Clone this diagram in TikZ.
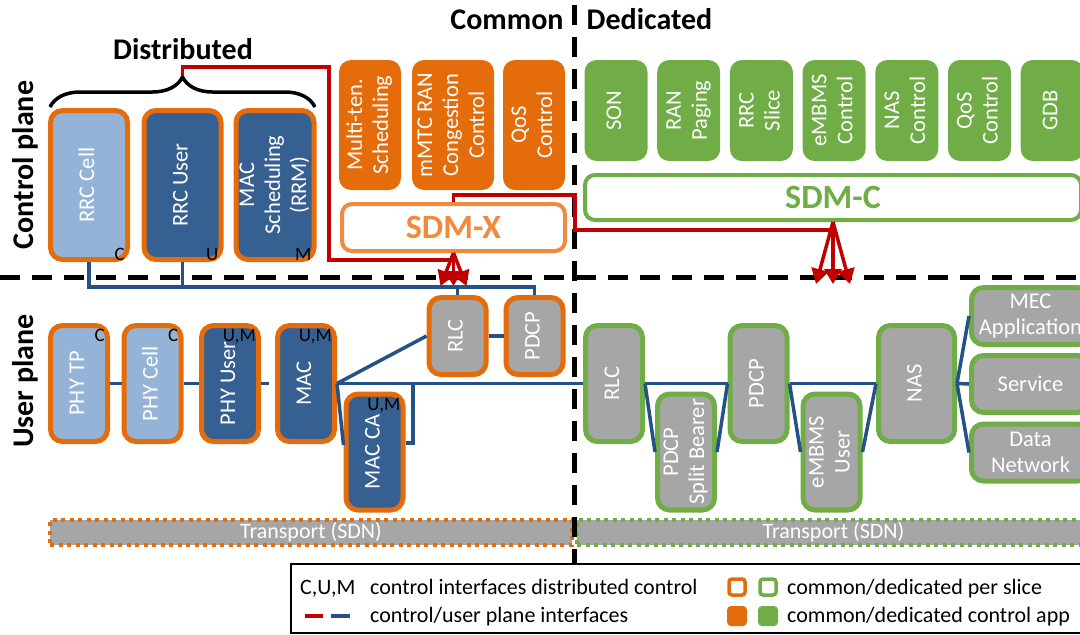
\documentclass[tikz,border=0pt]{standalone}
\usepackage{fontspec}
\setmainfont{Carlito}
\usepackage{graphicx}
\usepackage{xcolor}
\usepackage{tikz}
\usetikzlibrary{decorations.pathreplacing,arrows.meta}

\definecolor{ornge}{HTML}{E46C0A}
\definecolor{lightornge}{HTML}{F08A3E}
\definecolor{grn}{HTML}{70AD47}
\definecolor{lblue}{HTML}{95B3D7}
\definecolor{dblue}{HTML}{376092}
\definecolor{gry}{HTML}{A6A6A6}
\definecolor{lineblue}{HTML}{245286}
\definecolor{linered}{HTML}{C00000}

\newcommand{\vtext}[1]{\rotatebox{90}{\begin{tabular}{@{}c@{}}#1\end{tabular}}}

\begin{document}
\begin{tikzpicture}[x=1pt,y=-1pt]
        \tikzset{box style/.style={rectangle, rounded corners=12pt, line width=5pt, inner sep=0pt, text=white, font=\fontsize{22.5}{26}\selectfont}}
        \tikzset{dist box/.style={box style, draw=ornge, minimum width=77pt, minimum height=149pt}}
        \tikzset{up box/.style={box style, minimum width=57pt, minimum height=116pt}}
        \tikzset{app box/.style={rectangle, rounded corners=12pt, inner sep=0pt, text=white, font=\fontsize{22.5}{26}\selectfont}}
        \tikzset{sdm box/.style={rectangle, rounded corners=10pt, line width=4pt, fill=white, inner sep=0pt, font=\bfseries\fontsize{34}{40}\selectfont}}
        \tikzset{transport box/.style={rectangle, fill=gry, line width=4pt, dash pattern=on 4pt off 4.5pt, minimum height=25pt, inner sep=0pt, text=white, font=\fontsize{22}{26}\selectfont}}
        \tikzset{tag style/.style={inner sep=0pt, text=black, font=\fontsize{19}{22}\selectfont}}
        \tikzset{head style/.style={inner sep=0pt, font=\bfseries\fontsize{30}{36}\selectfont}}
        \tikzset{legend style/.style={inner sep=0pt, anchor=base west, font=\fontsize{22}{26}\selectfont}}
        \tikzset{sep line/.style={black, line width=5pt, dash pattern=on 20pt off 12pt}}
        \tikzset{uline/.style={lineblue, line width=3.5pt}}
        \tikzset{cline/.style={linered, line width=3.5pt}}
        \tikzset{fan/.style={cline, -{Triangle[width=17pt,length=15pt]}}}

        \useasboundingbox (0,0) rectangle (1080,635);

        % headings
        \node[head style, anchor=base] (distlbl) at (183,59) {Distributed};
        \node[head style, anchor=base] (commonlbl) at (507,29) {Common};
        \node[head style, anchor=base] (dedlbl) at (649.5,29) {Dedicated};
        \node[head style, anchor=base, rotate=90] (cplanelbl) at (34,165) {Control plane};
        \node[head style, anchor=base, rotate=90] (uplanelbl) at (34,381) {User plane};

        % control plane, distributed
        \node[dist box, fill=lblue] (rrccell) at (89,185) {\vtext{RRC Cell}};
        \node[dist box, fill=dblue] (rrcuser) at (182.5,185) {\vtext{RRC User}};
        \node[dist box, fill=dblue] (macsched) at (275,185) {\vtext{MAC\\Scheduling\\(RRM)}};
        \node[tag style, anchor=south east] (rrcctag) at ([shift={(-5,-1)}]rrccell.south east) {C};
        \node[tag style, anchor=south east] (rrcutag) at ([shift={(-5,-1)}]rrcuser.south east) {U};
        \node[tag style, anchor=south east] (mactag) at ([shift={(-5,-1)}]macsched.south east) {M};
        \draw[black, line width=3.5pt, decorate, decoration={brace, amplitude=30pt}] (50,107) -- (315,107);
        \coordinate (distr) at (182.5,76);

        % control plane, common
        \node[app box, fill=ornge, minimum width=62pt, minimum height=130pt] (multiten) at (370,125) {\vtext{Multi-ten.\\Scheduling}};
        \node[app box, fill=ornge, minimum width=82pt, minimum height=130pt] (mmtc) at (453,125) {\vtext{mMTC RAN\\Congestion\\Control}};
        \node[app box, fill=ornge, minimum width=62pt, minimum height=130pt] (qosx) at (534,125) {\vtext{QoS\\Control}};
        \node[sdm box, draw=lightornge, text=lightornge, minimum width=223pt, minimum height=47pt] (sdmx) at (453.5,227.5) {SDM-X};

        % control plane, dedicated
        \foreach \name/\txt [count=\i from 0] in {son/SON, ranpag/RAN\\Paging, rrcslice/RRC\\Slice, embmsc/eMBMS\\Control, nasc/NAS\\Control, qosc/QoS\\Control, gdb/GDB}
            \node[app box, fill=grn, minimum width=63pt, minimum height=101pt] (\name) at ({616+72.7*\i},110.5) {\vtext{\txt}};
        \node[sdm box, draw=grn, text=grn, minimum width=496pt, minimum height=45pt] (sdmc) at (833,197.5) {SDM-C};

        % user plane, common
        \node[up box, draw=ornge, fill=lblue] (phytp) at (79,383.5) {\vtext{PHY TP}};
        \node[up box, draw=ornge, fill=lblue] (phycell) at (152.5,383.5) {\vtext{PHY Cell}};
        \node[up box, draw=ornge, fill=dblue] (phyuser) at (230,383.5) {\vtext{PHY User}};
        \node[up box, draw=ornge, fill=dblue] (mac) at (306,383.5) {\vtext{MAC}};
        \node[up box, draw=ornge, fill=dblue] (macca) at (374.5,452) {\vtext{MAC CA}};
        \node[up box, draw=ornge, fill=gry, minimum height=77pt] (rlcx) at (457.5,336) {\vtext{RLC}};
        \node[up box, draw=ornge, fill=gry, minimum height=77pt] (pdcpx) at (534.5,336) {\vtext{PDCP}};
        \node[tag style, anchor=north east] (phytptag) at ([shift={(-5,6)}]phytp.north east) {C};
        \node[tag style, anchor=north east] (phycelltag) at ([shift={(-5,6)}]phycell.north east) {C};
        \node[tag style, anchor=north east] (phyusertag) at ([shift={(-5,6)}]phyuser.north east) {U,M};
        \node[tag style, anchor=north east] (mactag2) at ([shift={(-5,6)}]mac.north east) {U,M};
        \node[tag style, anchor=north east] (maccatag) at ([shift={(-5,7)}]macca.north east) {U,M};

        % user plane, dedicated
        \node[up box, draw=grn, fill=gry] (rlcd) at (614,383.5) {\vtext{RLC}};
        \node[up box, draw=grn, fill=gry] (pdcpsb) at (686,452) {\vtext{PDCP\\Split Bearer}};
        \node[up box, draw=grn, fill=gry] (pdcpd) at (758.5,383.5) {\vtext{PDCP}};
        \node[up box, draw=grn, fill=gry] (embmsu) at (831.5,452) {\vtext{eMBMS\\User}};
        \node[up box, draw=grn, fill=gry, minimum width=76pt] (nas) at (916.5,383.5) {\vtext{NAS}};
        \node[up box, draw=grn, fill=gry, minimum width=118pt, minimum height=57pt, align=center] (mec) at (1030.5,316) {MEC\\Application};
        \node[up box, draw=grn, fill=gry, minimum width=118pt, minimum height=57pt, align=center] (service) at (1030.5,384) {Service};
        \node[up box, draw=grn, fill=gry, minimum width=118pt, minimum height=57pt, align=center] (datanet) at (1030.5,452.5) {Data\\Network};

        % transport
        \node[transport box, draw=ornge, minimum width=522pt] (transx) at (311,532.5) {Transport (SDN)};
        \node[transport box, draw=grn, minimum width=513pt] (transd) at (833.5,532.5) {Transport (SDN)};

        % plane and domain separators
        \draw[sep line] (0,277) -- (1080,277);
        \draw[sep line] (574,5) -- (574,640);

        % control interfaces of the distributed functions
        \coordinate (cbus) at (88,287);
        \draw[uline] (rrccell.south) -- (rrccell.south |- cbus) -| (pdcpx.north);
        \draw[uline] (rrcuser.south) -- (rrcuser.south |- cbus);
        \draw[uline] (rlcx.north) -- (rlcx.north |- cbus);

        % user plane chain
        \draw[uline] (phytp.east) -- (phycell.west);
        \draw[uline] (phycell.east) -- (phyuser.west);
        \draw[uline] (phyuser.east) -- ++(8,0);
        \draw[uline] (mac.east) -- (rlcx.west);
        \draw[uline] (mac.east) -- (rlcd.west);
        \draw[uline] (mac.east) -- ([shift={(0,-7)}]macca.west);
        \coordinate (tap) at (413,383.5);
        \draw[uline] ([shift={(0,-9)}]macca.east) -| (tap);
        \draw[uline] (rlcx.east) -- (pdcpx.west);
        \draw[uline] (rlcd.east) -- (pdcpd.west);
        \draw[uline] (pdcpd.east) -- (nas.west);
        \draw[uline] (nas.east) -- (service.west);
        \draw[uline] (rlcd.east) -- (pdcpsb.west);
        \draw[uline] (pdcpsb.east) -- (pdcpd.west);
        \draw[uline] (pdcpd.east) -- (embmsu.west);
        \draw[uline] (embmsu.east) -- (nas.west);
        \draw[uline] (nas.east) -- (mec.west);
        \draw[uline] (nas.east) -- (datanet.west);

        % control plane interfaces
        \coordinate (xin) at (453.5,260);
        \coordinate (xout) at (575,195);
        \coordinate (cin) at (833,230);
        \draw[cline] (distr) -- ++(0,-9) -| (329,260) -- (xin);
        \draw[cline] (sdmx.north) |- (xout) |- (cin);
        \foreach \dx in {-13,0,13}
            \draw[fan] (sdmx.south) -- ++(\dx,33);
        \foreach \dx in {-17,0,17}
            \draw[fan] (sdmc.south) -- ++(\dx,62);

        % legend
        \draw[line width=1.5pt, fill=white] (291,564) rectangle (1090,633);
        \node[legend style] (cumlbl) at (300,594) {C,U,M};
        \node[legend style] (cumtxt) at (370,594) {control interfaces distributed control};
        \draw[linered, line width=4pt] (305,616) -- (323,616);
        \draw[lineblue, line width=4pt] (331,616) -- (350,616);
        \node[legend style] (ifacetxt) at (370,622) {control/user plane interfaces};
        \draw[ornge, line width=3.5pt, fill=white, rounded corners=3pt] (729,579) rectangle (745,595);
        \draw[grn, line width=3.5pt, fill=white, rounded corners=3pt] (760,579) rectangle (776,595);
        \node[legend style] (slicetxt) at (787,594) {common/dedicated per slice};
        \fill[ornge, rounded corners=4pt] (727,606) rectangle (747,626);
        \fill[grn, rounded corners=4pt] (758,606) rectangle (778,626);
        \node[legend style] (apptxt) at (787,622) {common/dedicated control app};
    \end{tikzpicture}
\end{document}
